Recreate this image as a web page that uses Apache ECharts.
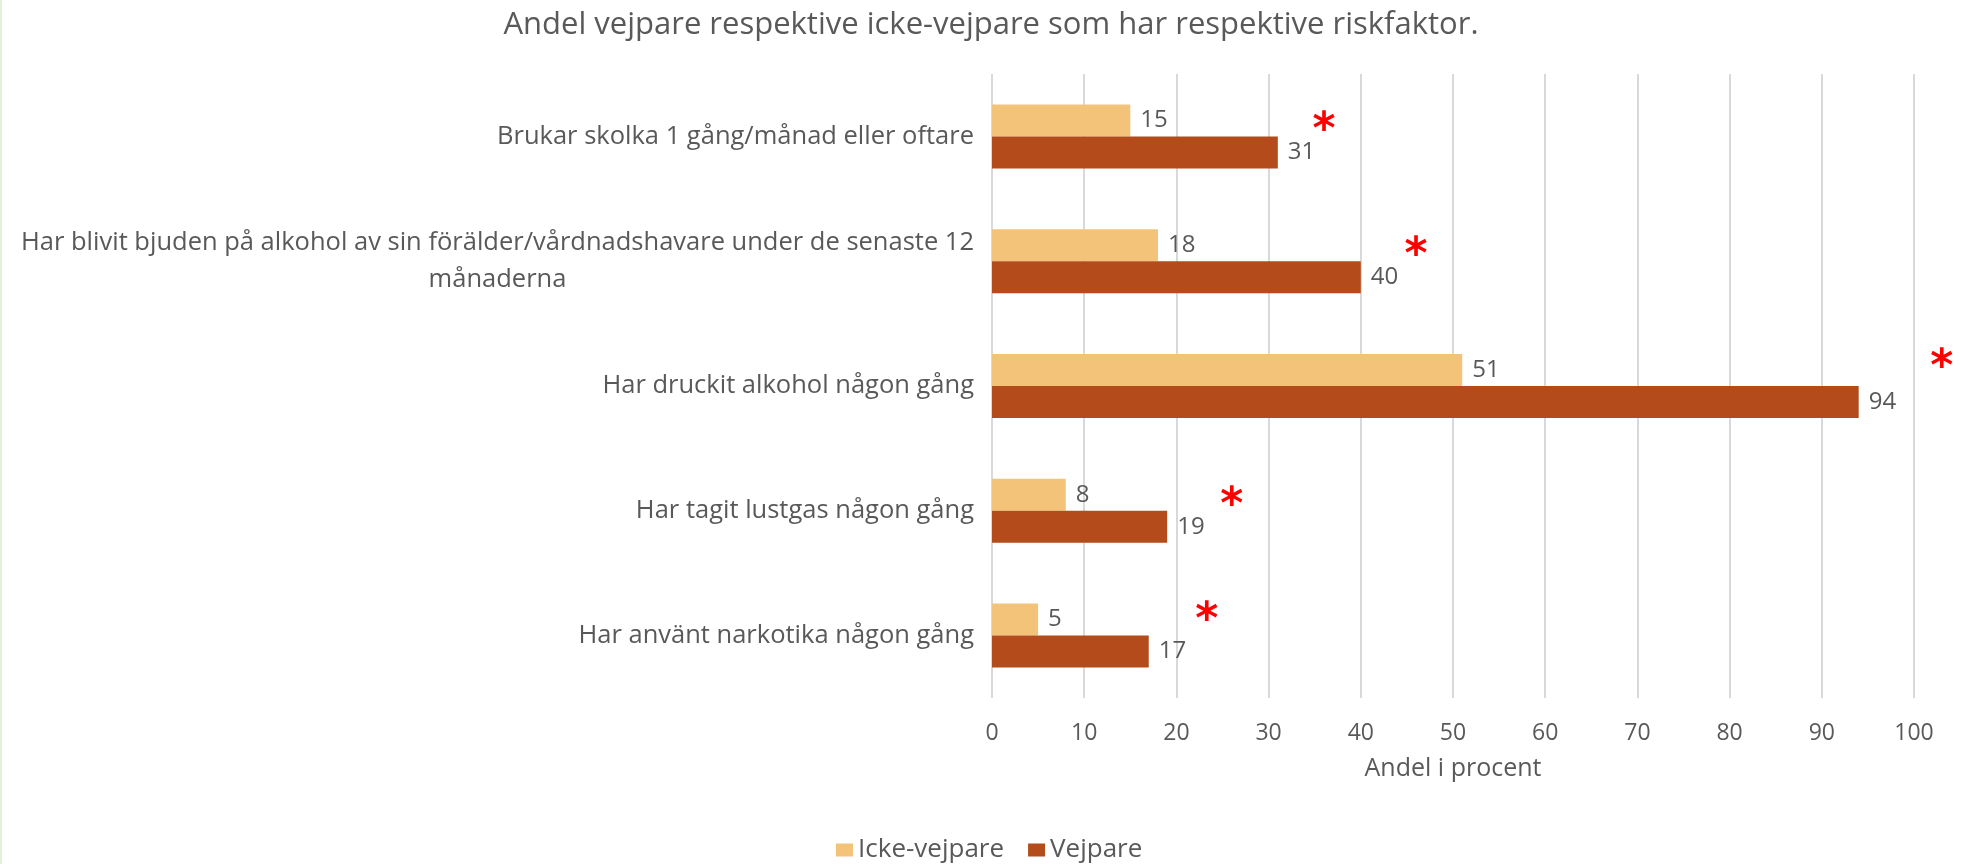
<!DOCTYPE html>
<html>
<head>
<meta charset="utf-8">
<script src="https://cdn.jsdelivr.net/npm/echarts@6/dist/echarts.min.js"></script>
<style>
html,body{margin:0;padding:0;background:#fff;}
#chart{width:1962px;height:864px;}
</style>
</head>
<body>
<div id="chart"></div>
<script>
// ---- data ----
const titleText = 'Andel vejpare respektive icke-vejpare som har respektive riskfaktor.';
const categories = [
  'Brukar skolka 1 gång/månad eller oftare',
  'Har blivit bjuden på alkohol av sin förälder/vårdnadshavare under de senaste 12\nmånaderna',
  'Har druckit alkohol någon gång',
  'Har tagit lustgas någon gång',
  'Har använt narkotika någon gång'
];
const seriesNames = ['Icke-vejpare', 'Vejpare'];
const ickeVejpare = [15, 18, 51, 8, 5];
const vejpare = [31, 40, 94, 19, 17];
const xAxisName = 'Andel i procent';
const xTicks = [0, 10, 20, 30, 40, 50, 60, 70, 80, 90, 100];
// significance markers (*) - x position in axis units
const sigMarkX = [36, 46, 103, 26, 23.3];

// ---- styling ----
const textColor = '#595959';
const colors = ['#F4C37A', '#B34B1A'];
const starDy = [0, 0, -12, 1, -9];

const chart = echarts.init(document.getElementById('chart'));

function catLabel(v) {
  const parts = v.split('\n');
  if (parts.length === 1) return '{a|' + parts[0] + '}';
  return parts.map(p => '{c|' + p + '}').join('\n');
}

const option = {
  animation: false,
  backgroundColor: '#ffffff',
  graphic: [{
    type: 'rect', left: 0, top: 0,
    shape: {width: 2, height: 864},
    style: {fill: '#E4F0D8'}, silent: true
  }],
  title: {
    text: titleText,
    left: 986, top: 5, textAlign: 'center',
    textStyle: {fontFamily: 'Open Sans', fontSize: 31, fontWeight: 'normal', color: textColor}
  },
  legend: {
    data: seriesNames,
    left: 831, top: 832,
    itemWidth: 17, itemHeight: 13, itemGap: 24,
    icon: 'rect',
    textStyle: {fontFamily: 'Open Sans', fontSize: 26, color: textColor}
  },
  grid: {left: 992, right: 48, top: 74, bottom: 166, containLabel: false},
  xAxis: {
    type: 'value', min: xTicks[0], max: xTicks[xTicks.length - 1], interval: 10,
    name: xAxisName, nameLocation: 'middle', nameGap: 58,
    nameTextStyle: {fontFamily: 'Open Sans', fontSize: 25, color: textColor},
    axisLine: {show: false}, axisTick: {show: false},
    axisLabel: {fontFamily: 'Open Sans', fontSize: 23, color: textColor, margin: 24},
    splitLine: {show: true, lineStyle: {color: '#D9D9D9', width: 2}}
  },
  yAxis: {
    type: 'category', data: categories, inverse: true,
    axisLine: {show: false}, axisTick: {show: false},
    axisLabel: {
      margin: 18, color: textColor, fontFamily: 'Open Sans', fontSize: 25.5,
      formatter: catLabel,
      rich: {
        a: {fontFamily: 'Open Sans', fontSize: 25.5, color: textColor},
        c: {fontFamily: 'Open Sans', fontSize: 25.5, color: textColor, align: 'center', lineHeight: 37}
      }
    },
    splitLine: {show: false}
  },
  series: [
    {
      name: seriesNames[0], type: 'bar', data: ickeVejpare, barWidth: 32, barGap: '0%',
      itemStyle: {color: colors[0]},
      label: {show: true, position: 'right', distance: 10, color: textColor, fontFamily: 'Open Sans', fontSize: 24}
    },
    {
      name: seriesNames[1], type: 'bar', data: vejpare, barWidth: 32, barGap: '0%',
      itemStyle: {color: colors[1]},
      label: {show: true, position: 'right', distance: 10, color: textColor, fontFamily: 'Open Sans', fontSize: 24}
    },
    {
      name: 'sig', type: 'scatter', symbol: 'circle', symbolSize: 2, clip: false, silent: true,
      itemStyle: {color: 'rgba(0,0,0,0)'},
      z: 5,
      data: sigMarkX.map((x, i) => ({
        value: [x, i],
        label: {offset: [0, -5 + starDy[i]]}
      })),
      label: {
        show: true, position: 'inside', formatter: '*', opacity: 1,
        color: '#FF0000', fontFamily: 'DejaVu Sans', fontWeight: 'bold', fontSize: 44
      }
    }
  ]
};
chart.setOption(option);
</script>
</body>
</html>
